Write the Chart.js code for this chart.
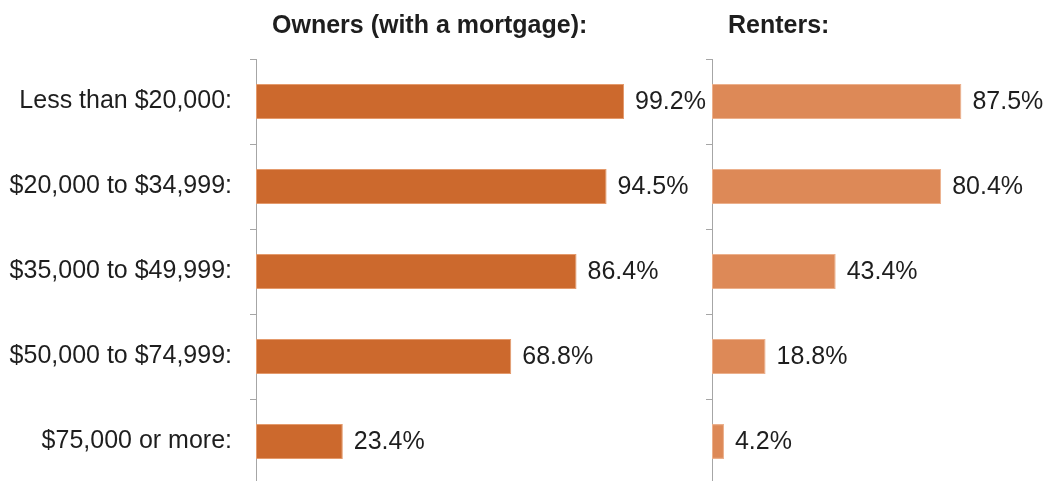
<!DOCTYPE html>
<html>
<head>
<meta charset="utf-8">
<title>Share of households by income</title>
<script src="https://cdn.jsdelivr.net/npm/chart.js@4.4.1/dist/chart.umd.min.js"></script>
<style>
  html, body { margin: 0; padding: 0; background: #ffffff; }
  body { width: 1049px; height: 481px; overflow: hidden; position: relative; }
  canvas { position: absolute; top: 0; }
  #owners { left: 0; }
  #renters { left: 600px; }
</style>
</head>
<body>
<canvas id="owners" width="710" height="517"></canvas>
<canvas id="renters" width="449" height="517"></canvas>
<script>
// Income brackets (category axis)
const categories = [
  'Less than $20,000:',
  '$20,000 to $34,999:',
  '$35,000 to $49,999:',
  '$50,000 to $74,999:',
  '$75,000 or more:'
];

// Percent values per bracket
const ownersWithMortgage = [99.2, 94.5, 86.4, 68.8, 23.4];
const renters = [87.5, 80.4, 43.4, 18.8, 4.2];

// Panel headings
const ownersTitle = 'Owners (with a mortgage):';
const rentersTitle = 'Renters:';

const FONT = "'Liberation Sans', Arial, sans-serif";
const TEXT_COLOR = '#1e1e1e';
const AXIS_COLOR = '#a6a6a6';

// Writes the value at the end of each bar and the panel heading
const panelText = {
  id: 'panelText',
  afterDatasetsDraw(chart, args, opts) {
    const ctx = chart.ctx;
    ctx.save();
    ctx.fillStyle = TEXT_COLOR;
    ctx.font = '25px ' + FONT;
    ctx.textAlign = 'left';
    ctx.textBaseline = 'middle';
    const meta = chart.getDatasetMeta(0);
    const values = chart.data.datasets[0].data;
    meta.data.forEach((bar, i) => {
      ctx.fillText(values[i].toFixed(1) + '%', bar.x + 11, bar.y + 1);
    });
    ctx.font = 'bold 25px ' + FONT;
    ctx.fillText(opts.heading, chart.chartArea.left + 16, 26);
    ctx.restore();
  }
};

function makePanel(canvasId, values, color, edge, heading, showLabels, axisWidth, rightPad) {
  return new Chart(document.getElementById(canvasId), {
    type: 'bar',
    data: {
      labels: categories,
      datasets: [{
        data: values,
        backgroundColor: color,
        borderColor: edge,
        borderWidth: 1,
        borderSkipped: false,
        barPercentage: 0.41,
        categoryPercentage: 1
      }]
    },
    options: {
      indexAxis: 'y',
      responsive: false,
      animation: false,
      devicePixelRatio: 1,
      layout: { padding: { top: 59, bottom: 16, left: 0, right: rightPad } },
      plugins: {
        legend: { display: false },
        tooltip: { enabled: false },
        panelText: { heading: heading }
      },
      scales: {
        x: { display: false, min: 0, max: 100 },
        y: {
          afterFit(scale) { scale.width = axisWidth; },
          grid: {
            drawOnChartArea: false,
            drawTicks: true,
            tickLength: 6,
            color: AXIS_COLOR,
            offset: true
          },
          border: { display: true, color: AXIS_COLOR, width: 1 },
          ticks: {
            padding: 18,
            color: TEXT_COLOR,
            font: { family: FONT, size: 25 },
            callback(value) { return showLabels ? this.getLabelForValue(value) : ''; }
          }
        }
      }
    },
    plugins: [panelText]
  });
}

makePanel('owners', ownersWithMortgage, '#cc692d', '#e49a6c', ownersTitle, true, 256, 83);
makePanel('renters', renters, '#dd8957', '#ecb08c', rentersTitle, false, 112, 52);
</script>
</body>
</html>
